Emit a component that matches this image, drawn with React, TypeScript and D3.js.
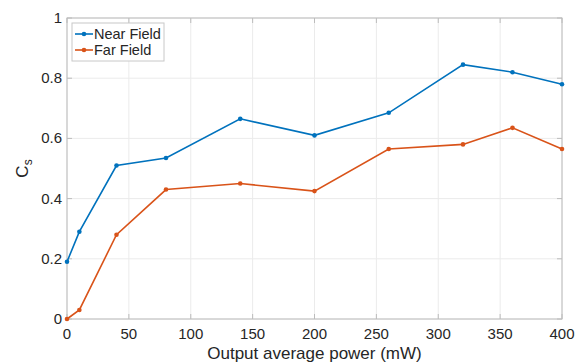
import React, { useRef, useEffect } from "react";
import * as d3 from "d3";

const power = [0, 10, 40, 80, 140, 200, 260, 320, 360, 400];
const nearField = [0.19, 0.29, 0.51, 0.535, 0.665, 0.61, 0.685, 0.845, 0.82, 0.78];
const farField = [0.0, 0.03, 0.28, 0.43, 0.45, 0.425, 0.565, 0.58, 0.635, 0.565];
const xTicks = [0, 50, 100, 150, 200, 250, 300, 350, 400];
const yTicks = [0, 0.2, 0.4, 0.6, 0.8, 1];
const seriesNames = ["Near Field", "Far Field"];

const colors = ["#0072BD", "#D95319"];
const font = "'Liberation Sans', Arial, sans-serif";

export default function App() {
  const ref = useRef<SVGSVGElement>(null);

  useEffect(() => {
    const width = 577, height = 363;
    const margin = { left: 67, right: 15, top: 18, bottom: 44 };
    const svg = d3.select(ref.current);
    svg.selectAll("*").remove();

    const x = d3.scaleLinear().domain([0, 400]).range([margin.left, width - margin.right]);
    const y = d3.scaleLinear().domain([0, 1]).range([height - margin.bottom, margin.top]);

    const g = svg.append("g");

    // grid
    g.selectAll(".gx").data(xTicks).enter().append("line")
      .attr("x1", d => x(d)).attr("x2", d => x(d))
      .attr("y1", y(0)).attr("y2", y(1))
      .attr("stroke", "#ebebeb").attr("stroke-width", 1);
    g.selectAll(".gy").data(yTicks).enter().append("line")
      .attr("x1", x(0)).attr("x2", x(400))
      .attr("y1", d => y(d)).attr("y2", d => y(d))
      .attr("stroke", "#ebebeb").attr("stroke-width", 1);

    // box
    g.append("rect")
      .attr("x", x(0)).attr("y", y(1))
      .attr("width", x(400) - x(0)).attr("height", y(0) - y(1))
      .attr("fill", "none").attr("stroke", "#bcbcbc").attr("stroke-width", 1);

    // ticks inward
    xTicks.forEach(t => {
      g.append("line").attr("x1", x(t)).attr("x2", x(t)).attr("y1", y(0)).attr("y2", y(0) - 5).attr("stroke", "#bcbcbc");
      g.append("line").attr("x1", x(t)).attr("x2", x(t)).attr("y1", y(1)).attr("y2", y(1) + 5).attr("stroke", "#bcbcbc");
    });
    yTicks.forEach(t => {
      g.append("line").attr("x1", x(0)).attr("x2", x(0) + 5).attr("y1", y(t)).attr("y2", y(t)).attr("stroke", "#bcbcbc");
      g.append("line").attr("x1", x(400)).attr("x2", x(400) - 5).attr("y1", y(t)).attr("y2", y(t)).attr("stroke", "#bcbcbc");
    });

    // tick labels
    g.selectAll(".xl").data(xTicks).enter().append("text")
      .attr("x", d => x(d)).attr("y", y(0) + 20)
      .attr("text-anchor", "middle")
      .attr("font-family", font).attr("font-size", 15).attr("fill", "#262626")
      .text(d => String(d));
    g.selectAll(".yl").data(yTicks).enter().append("text")
      .attr("x", x(0) - 5).attr("y", d => y(d) + 5)
      .attr("text-anchor", "end")
      .attr("font-family", font).attr("font-size", 15).attr("fill", "#262626")
      .text(d => String(d));

    // axis labels
    g.append("text")
      .attr("x", (x(0) + x(400)) / 2).attr("y", height - 4)
      .attr("text-anchor", "middle")
      .attr("font-family", font).attr("font-size", 17).attr("fill", "#262626")
      .text("Output average power (mW)");
    const yl = g.append("text")
      .attr("transform", `translate(28,${(y(0) + y(1)) / 2}) rotate(-90)`)
      .attr("text-anchor", "middle")
      .attr("font-family", font).attr("font-size", 17).attr("fill", "#262626");
    yl.append("tspan").text("C");
    yl.append("tspan").attr("font-size", 12).attr("dy", 4).text("s");

    // lines
    const line = d3.line<number>().x((_, i) => x(power[i])).y(d => y(d));
    [nearField, farField].forEach((s, k) => {
      g.append("path").datum(s).attr("d", line)
        .attr("fill", "none").attr("stroke", colors[k]).attr("stroke-width", 1.6);
      g.selectAll(".m" + k).data(s).enter().append("circle")
        .attr("cx", (_, i) => x(power[i])).attr("cy", d => y(d))
        .attr("r", 2.3).attr("fill", colors[k]);
    });

    // legend
    const lg = g.append("g").attr("transform", `translate(${x(0) + 5},${y(1) + 5})`);
    lg.append("rect").attr("width", 92).attr("height", 38)
      .attr("fill", "#fff").attr("stroke", "#c8c8c8");
    seriesNames.forEach((n, k) => {
      const cy = 11 + k * 16;
      lg.append("line").attr("x1", 3).attr("x2", 21).attr("y1", cy).attr("y2", cy)
        .attr("stroke", colors[k]).attr("stroke-width", 1.6);
      lg.append("circle").attr("cx", 12).attr("cy", cy).attr("r", 2.3).attr("fill", colors[k]);
      lg.append("text").attr("x", 22).attr("y", cy + 5)
        .attr("font-family", font).attr("font-size", 14.5).attr("fill", "#262626")
        .text(n);
    });
  }, []);

  return (
    <svg ref={ref} width={577} height={363}
      style={{ position: "absolute", left: 0, top: 0, background: "#fff" }} />
  );
}
